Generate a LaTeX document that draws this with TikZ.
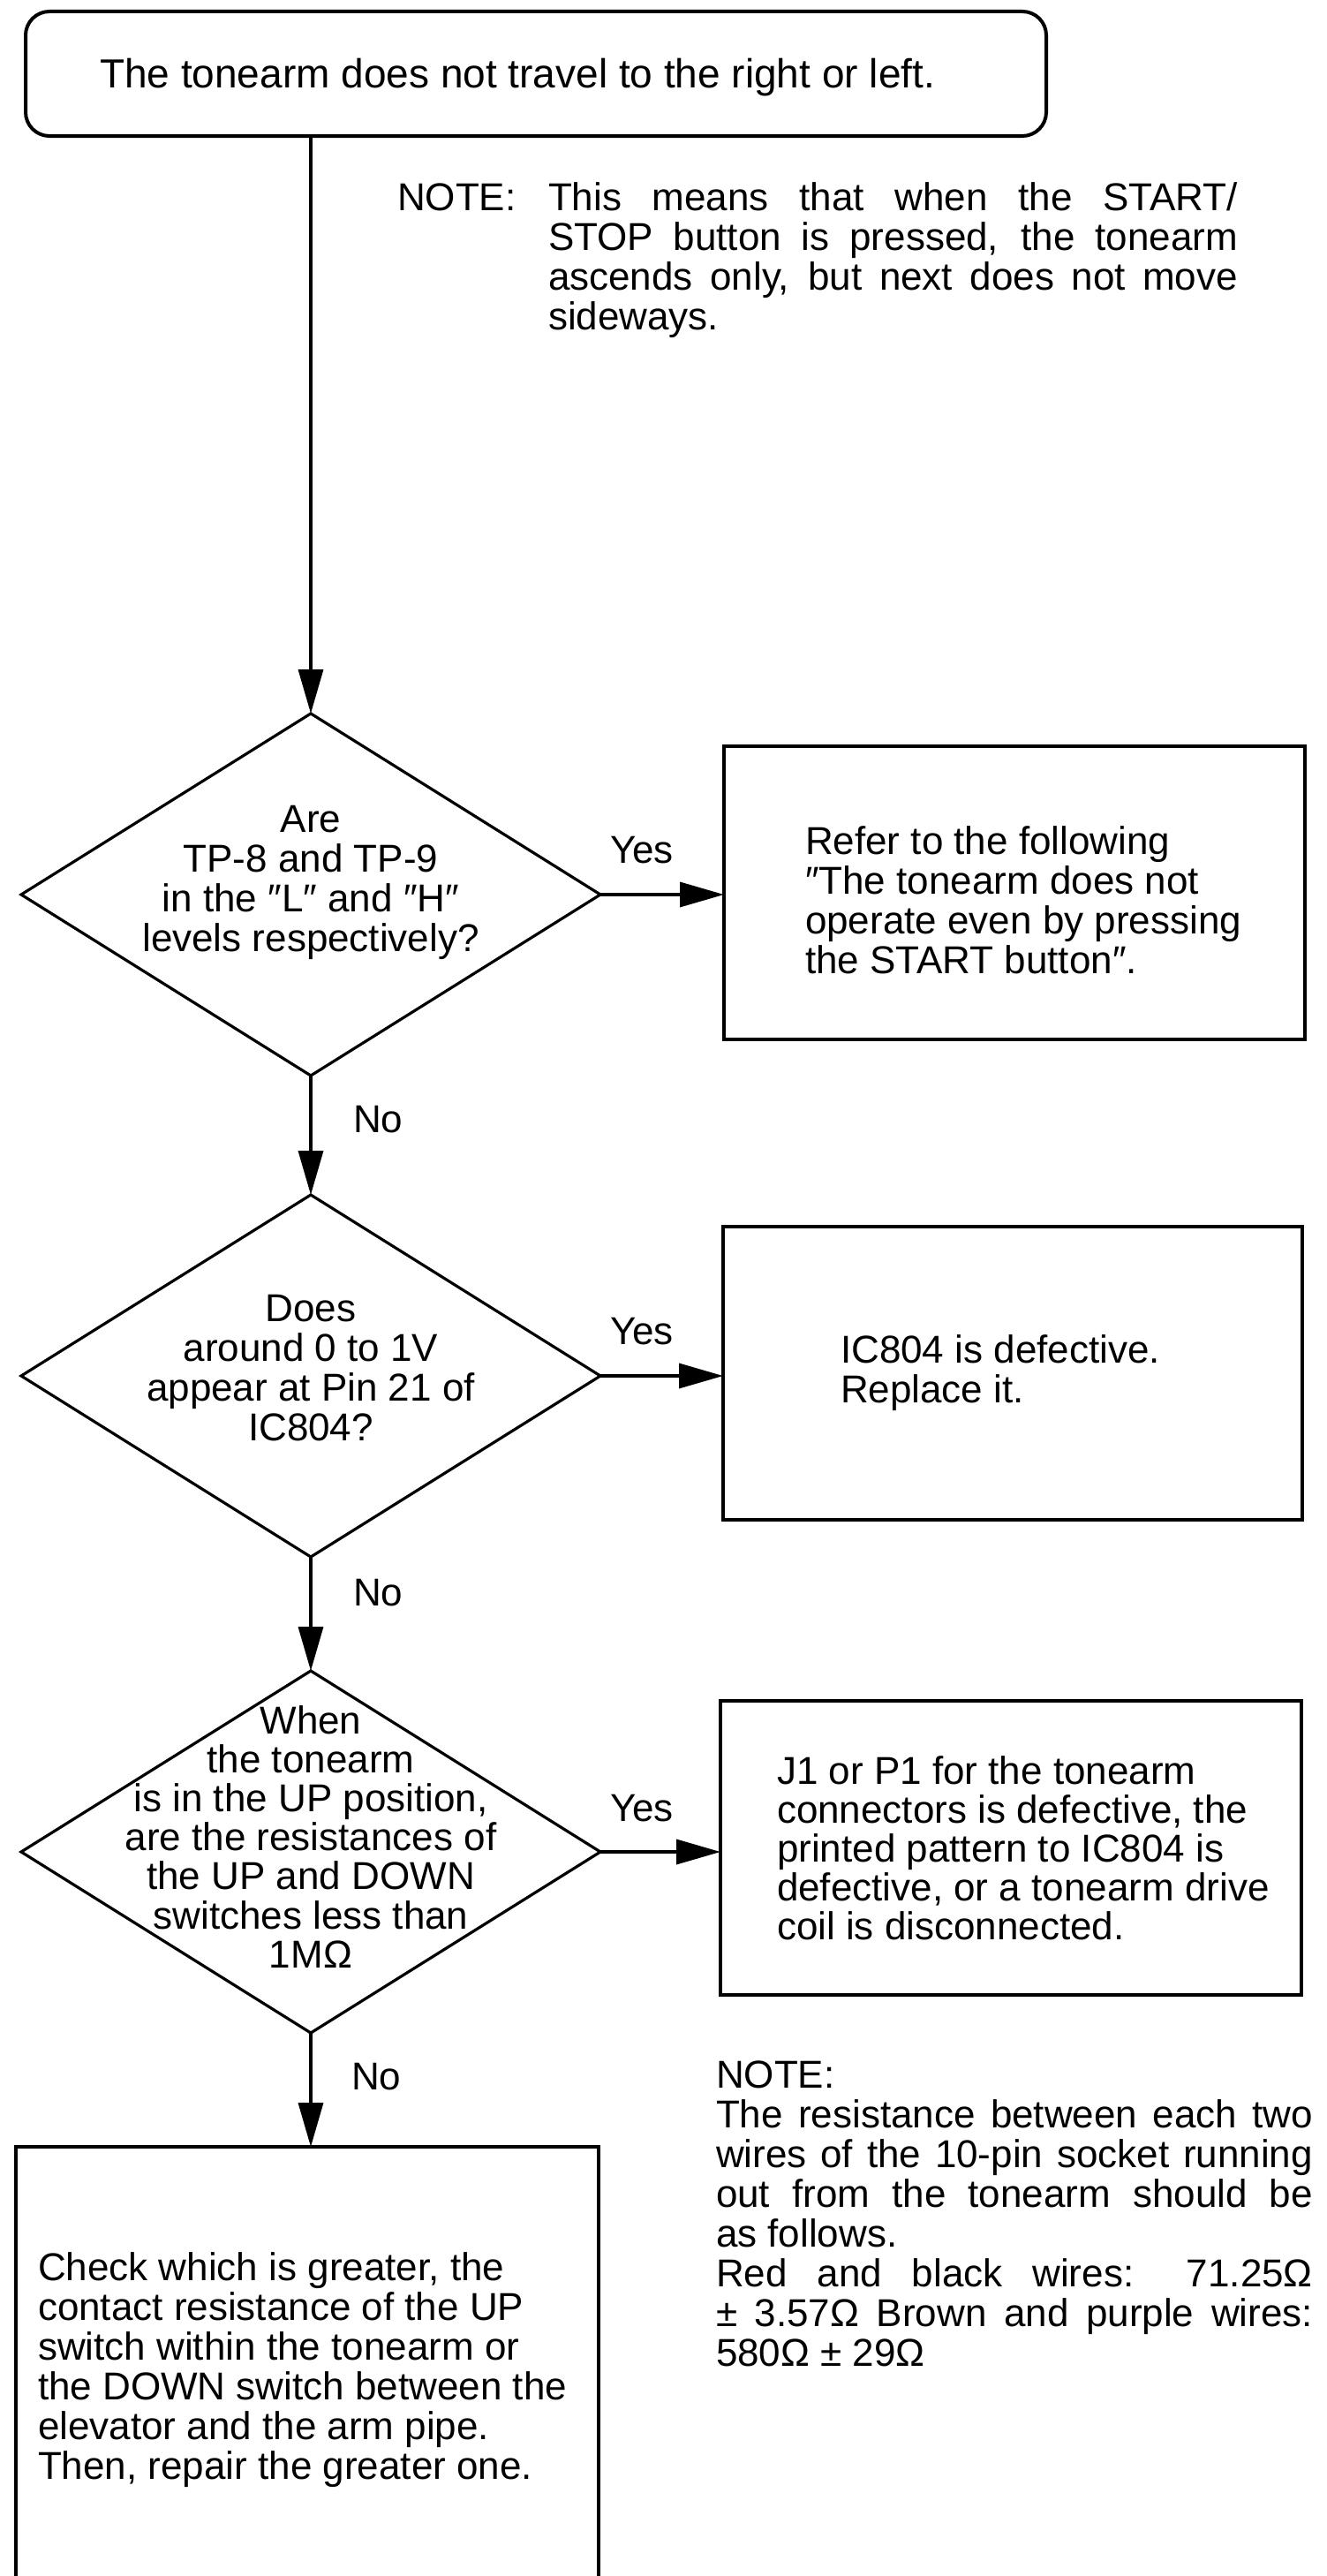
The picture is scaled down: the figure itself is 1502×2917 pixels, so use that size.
\documentclass[tikz,border=0pt]{standalone}
\usepackage{fontspec}
\setmainfont{Liberation Sans}
\usetikzlibrary{shapes.geometric,arrows.meta}
\newcommand{\jl}[2]{\makebox[#1][s]{#2}}
\begin{document}
\begin{tikzpicture}[x=1pt,y=-1pt,
  arr/.style={line width=3.5pt,-{Triangle[length=50pt,width=28pt]}},
  boxshape/.style={draw,rectangle,line width=4pt,inner sep=0pt,outer sep=0pt},
  dia/.style={draw,diamond,line width=3.2pt,inner sep=0pt,outer sep=0pt,minimum width=656pt,minimum height=410pt},
  lbl/.style={inner sep=0pt,outer sep=0pt,anchor=base west,font=\fontsize{44}{45}\selectfont},
  clbl/.style={lbl,anchor=base}]
\path[use as bounding box,fill=white] (0,0) rectangle (1502,2917);

% start box
\node[boxshape,rounded corners=27pt,minimum width=1156pt,minimum height=141pt] (start) at (607,83.5) {};
\node[lbl,font=\fontsize{46}{47}\selectfont] (starttext) at (113,100) {The tonearm does not travel to the right or left.};

% note 1
\node[lbl] (note1label) at (450,238) {NOTE:};
\node[lbl] (note1) at (621,238) {\parbox[t]{781pt}{\jl{781pt}{This means that when the START/}\\\jl{781pt}{STOP button is pressed, the tonearm}\\\jl{781pt}{ascends only, but next does not move}\\sideways.}};

% decision 1
\node[dia] (d1) at (352,1013) {};
\node[clbl] (d1text) at (352,942) {\parbox[t]{600pt}{\centering Are\\TP-8 and TP-9\\in the ″L″ and ″H″\\levels respectively?}};
\node[boxshape,minimum width=658pt,minimum height=332pt] (b1) at (1149,1011) {};
\node[lbl] (b1text) at (912,967) {\parbox[t]{560pt}{\raggedright Refer to the following\\″The tonearm does not\\operate even by pressing\\the START button″.}};
\node[clbl] (yes1) at (727,977) {Yes};
\node[lbl] (no1) at (400,1282) {No};

% decision 2
\node[dia] (d2) at (352,1558) {};
\node[clbl] (d2text) at (352,1496) {\parbox[t]{600pt}{\centering Does\\around 0 to 1V\\appear at Pin 21 of\\IC804?}};
\node[boxshape,minimum width=656pt,minimum height=332pt] (b2) at (1147,1555) {};
\node[lbl] (b2text) at (952,1543) {\parbox[t]{500pt}{\raggedright IC804 is defective.\\Replace it.}};
\node[clbl] (yes2) at (727,1522) {Yes};
\node[lbl] (no2) at (400,1818) {No};

% decision 3
\node[dia] (d3) at (352,2097) {};
\node[clbl,font=\fontsize{44}{44.2}\selectfont] (d3text) at (352,1963) {\parbox[t]{600pt}{\centering When\\the tonearm\\is in the UP position,\\are the resistances of\\the UP and DOWN\\switches less than\\1MΩ}};
\node[boxshape,minimum width=658pt,minimum height=333pt] (b3) at (1145,2092.5) {};
\node[lbl,font=\fontsize{44}{44.2}\selectfont] (b3text) at (880,2020) {\parbox[t]{590pt}{\raggedright J1 or P1 for the tonearm\\connectors is defective, the\\printed pattern to IC804 is\\defective, or a tonearm drive\\coil is disconnected.}};
\node[clbl] (yes3) at (727,2062) {Yes};
\node[lbl] (no3) at (398,2366) {No};

% final box
\node[boxshape,minimum width=660pt,minimum height=509pt] (final) at (348,2685.5) {};
\node[lbl] (finaltext) at (43,2582) {\parbox[t]{630pt}{\raggedright Check which is greater, the\\contact resistance of the UP\\switch within the tonearm or\\the DOWN switch between the\\elevator and the arm pipe.\\Then, repair the greater one.}};

% note 2
\node[lbl] (note2label) at (811,2364) {NOTE:};
\node[lbl] (note2) at (811,2409) {\parbox[t]{676pt}{\jl{676pt}{The resistance between each two}\\\jl{676pt}{wires of the 10-pin socket running}\\\jl{676pt}{out from the tonearm should be}\\as follows.\\\jl{676pt}{Red and black wires: 71.25Ω}\\\jl{676pt}{± 3.57Ω Brown and purple wires:}\\580Ω ± 29Ω}};

% connectors
\draw[arr] (start.south -| d1.north) -- (d1.north);
\draw[arr] (d1.east) -- (d1.east -| b1.west);
\draw[arr] (d1.south) -- (d2.north);
\draw[arr] (d2.east) -- (d2.east -| b2.west);
\draw[arr] (d2.south) -- (d3.north);
\draw[arr] (d3.east) -- (d3.east -| b3.west);
\draw[arr] (d3.south) -- (d3.south |- final.north);
\end{tikzpicture}
\end{document}
